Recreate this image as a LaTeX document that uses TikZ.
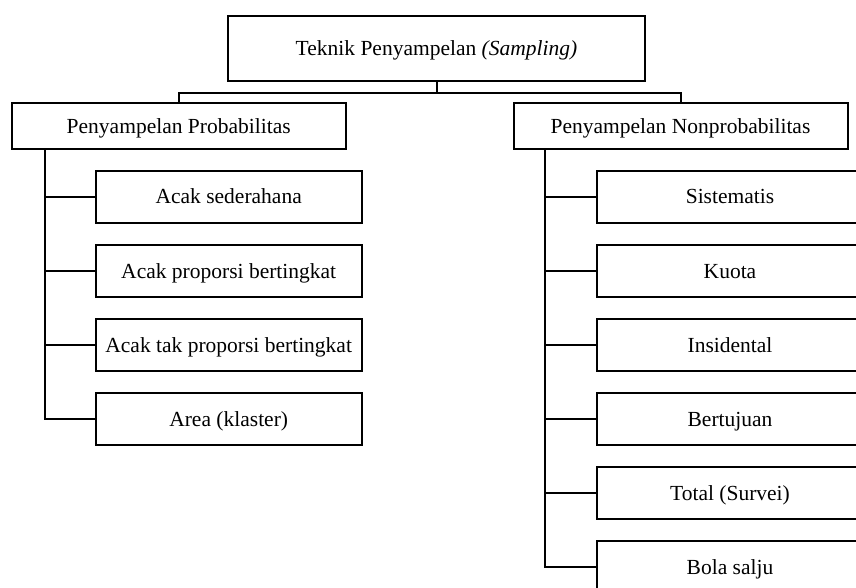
\documentclass[tikz,border=0pt]{standalone}
\usepackage{fontspec}
\setmainfont{Liberation Serif}
\usepackage{tikz}

\tikzset{
    box/.style={draw, line width=2pt, inner sep=0pt, text height=16pt, text depth=2pt,
        font=\fontsize{21.5}{25}\selectfont},
    itembox/.style={box, minimum width=266pt, minimum height=52pt},
    link/.style={line width=2pt, line join=miter}
}

\begin{document}
\begin{tikzpicture}[x=1pt, y=-1pt]
    \useasboundingbox (0,0) rectangle (856,588);
    \clip (0,0) rectangle (856,588);
    % root and the two groups
    \node[box, minimum width=417pt, minimum height=65pt] (root) at (436.5,48.5) {Teknik Penyampelan \textit{(Sampling)}};
    \node[box, minimum width=334pt, minimum height=46pt] (prob) at (178.7,126.3) {Penyampelan Probabilitas};
    \node[box, minimum width=334pt, minimum height=46pt] (nonprob) at (680.5,126.3) {Penyampelan Nonprobabilitas};
    \coordinate (hub) at (436.5,92.7);
    \draw[link] (root.south) -- (hub);
    \draw[link] (hub) -| (prob.north);
    \draw[link] (hub) -| (nonprob.north);
    % probabilitas
    \node[itembox] (p1) at (228.7,197) {Acak sederahana};
    \node[itembox] (p2) at (228.7,271) {Acak proporsi bertingkat};
    \node[itembox] (p3) at (228.7,345) {Acak tak proporsi bertingkat};
    \node[itembox] (p4) at (228.7,419) {Area (klaster)};
    \coordinate (ptrunk) at (45,149.3);
    \draw[link] (ptrunk) |- (p4.west);
    \foreach \n in {p1,p2,p3}
        \draw[link] (\n.west -| ptrunk) -- (\n.west);
    % nonprobabilitas
    \node[itembox] (n1) at (730,197) {Sistematis};
    \node[itembox] (n2) at (730,271) {Kuota};
    \node[itembox] (n3) at (730,345) {Insidental};
    \node[itembox] (n4) at (730,419) {Bertujuan};
    \node[itembox] (n5) at (730,493) {Total (Survei)};
    \node[itembox] (n6) at (730,567) {Bola salju};
    \coordinate (ntrunk) at (545,149.3);
    \draw[link] (ntrunk) |- (n6.west);
    \foreach \n in {n1,n2,n3,n4,n5}
        \draw[link] (\n.west -| ntrunk) -- (\n.west);
\end{tikzpicture}
\end{document}
